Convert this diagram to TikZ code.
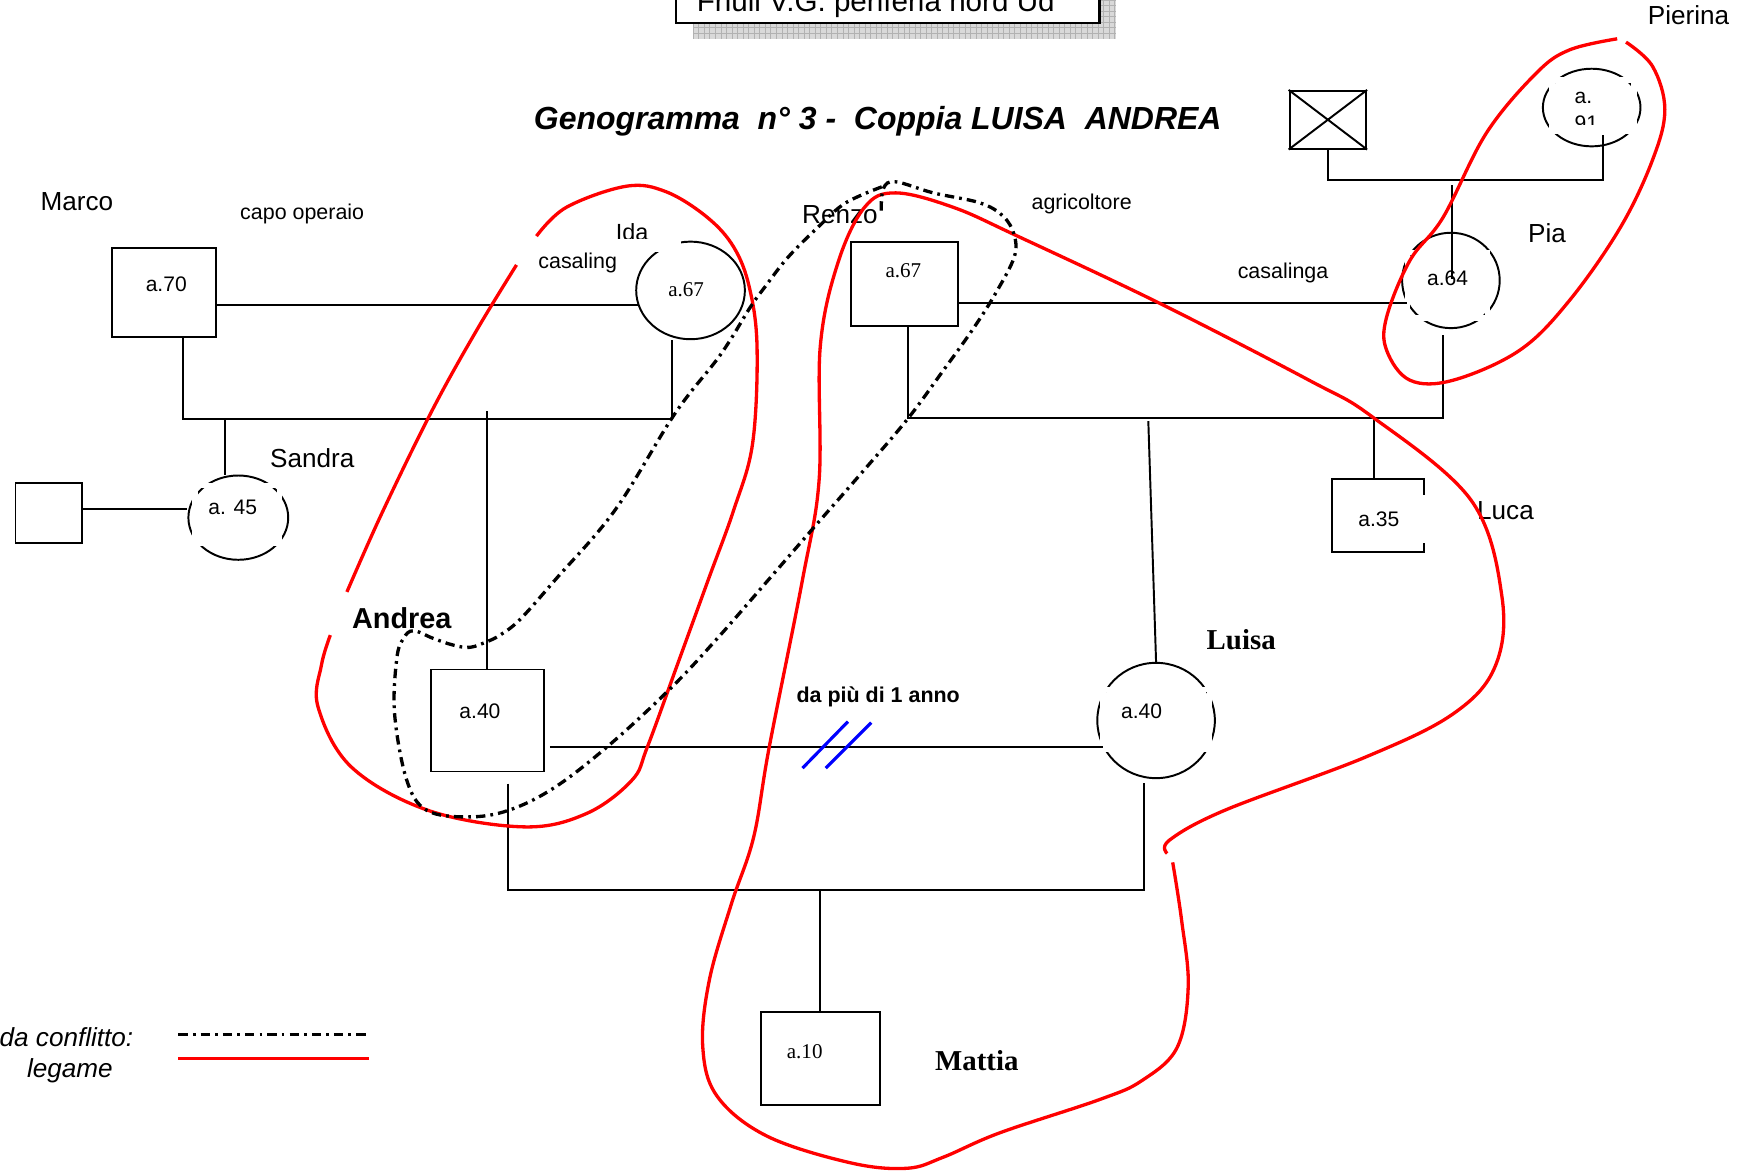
\documentclass[tikz,border=0pt]{standalone}
\usepackage{fontspec}
\setmainfont{Liberation Sans}
\newfontfamily\tms{Liberation Serif}
\usetikzlibrary{shapes.geometric}

\begin{document}
\begin{tikzpicture}[x=0.01cm, y=-0.01cm,
  male/.style={draw, rectangle, line width=0.5pt, inner sep=0},
  female/.style={draw, ellipse, line width=0.5pt, inner sep=0},
  eta/.style={inner sep=0, font=\fontsize{5.4}{6.5}\selectfont},
  etatm/.style={inner sep=0, font=\tms\fontsize{5.4}{6.5}\selectfont},
  pname/.style={anchor=base west, inner sep=0, font=\fontsize{6.7}{8}\selectfont},
  job/.style={anchor=base west, inner sep=0, font=\fontsize{5.5}{6.5}\selectfont},
  rel/.style={line width=0.5pt},
  textbox/.style={draw=white, line width=1.4pt},
  legame/.style={red, line width=0.85pt},
  conflitto/.style={line width=0.85pt, dash pattern=on 2.4pt off 1.3pt on 0.7pt off 1.3pt},
  separa/.style={blue, line width=0.8pt},
]
  \useasboundingbox (0,0) rectangle (1568,1056);

  % intestazione (tagliata in alto)
  \fill[gray!30] (625,35) rectangle (1007,-20);
  \draw[gray!60, line width=0.2pt, step=0.05cm] (625,35) grid (1007,-20);
  \filldraw[fill=white, line width=0.6pt] (610,-34) rectangle (992,21);
  \node[anchor=base west, inner sep=0, font=\fontsize{7.6}{9}\selectfont] (luogo) at (628,10)
    {Friuli V.G. periferia nord Ud};

  \node[anchor=base west, inner sep=0, font=\bfseries\itshape\fontsize{8.2}{10}\selectfont]
    (titolo) at (481,117) {Genogramma~~n° 3 -~~Coppia LUISA~~ANDREA};

  % persone
  \node[male, minimum width=0.94cm, minimum height=0.80cm] (marco) at (148,264) {};
  \node[female, minimum width=0.98cm, minimum height=0.88cm] (ida) at (623,262) {};
  \node[female, minimum width=0.90cm, minimum height=0.76cm] (sandra) at (215,467) {};
  \node[male, minimum width=0.60cm, minimum height=0.54cm] (sandraM) at (44,463) {};
  \node[male, minimum width=1.02cm, minimum height=0.92cm] (andrea) at (440,650) {};
  \node[male, minimum width=0.96cm, minimum height=0.76cm] (renzo) at (816,256) {};
  \node[female, minimum width=0.88cm, minimum height=0.86cm] (pia) at (1309,253) {};
  \node[male, minimum width=0.69cm, minimum height=0.52cm] (bisnonno) at (1198,108) {};
  \draw[rel] (bisnonno.north west) -- (bisnonno.south east)
    (bisnonno.north east) -- (bisnonno.south west);
  \node[female, minimum width=0.88cm, minimum height=0.70cm] (pierina) at (1436,97) {};
  \node[male, minimum width=0.83cm, minimum height=0.66cm] (luca) at (1243,465) {};
  \node[female, minimum width=1.06cm, minimum height=1.04cm] (luisa) at (1043,650) {};
  \node[male, minimum width=1.07cm, minimum height=0.84cm] (mattia) at (740,955) {};

  % eta'
  \node[eta] (marcoEta) at ([shift={(2,-8)}]marco.center) {a.70};
  \node[etatm] (idaEta) at ([shift={(-4,-1)}]ida.center) {a.67};
  \node[eta] (sandraEta) at ([shift={(-5,-9)}]sandra.center) {a. 45};
  \node[eta] (andreaEta) at ([shift={(-7,-8)}]andrea.center) {a.40};
  \node[etatm] (renzoEta) at ([shift={(-1,-12)}]renzo.center) {a.67};
  \node[eta] (piaEta) at ([shift={(-3,-2)}]pia.center) {a.64};
  \node[eta] (lucaEta) at ([shift={(1,3)}]luca.center) {a.35};
  \node[eta] (luisaEta) at ([shift={(-13,-8)}]luisa.center) {a.40};
  \node[etatm] (mattiaEta) at ([shift={(-14,-6)}]mattia.center) {a.10};
  \begin{scope}
    \clip (1395,70) rectangle (1478,112);
    \node[eta, anchor=base west] (pierinaA) at (1420,93) {a.};
    \node[eta, anchor=base west] (pierinaB) at (1420,118) {91};
  \end{scope}

  % bordi bianchi delle caselle di testo
  \draw[textbox] (176,438) rectangle (252,490);
  \draw[textbox] (995,622) rectangle (1091,676);
  \draw[textbox] (1270,228) rectangle (1342,287);
  \draw[textbox] (1400,72) rectangle (1474,118);
  \draw[textbox] (luca.east |- 0,447) -- (luca.east |- 0,490);

  % punti di giunzione
  \coordinate (miL) at (165,378);
  \coordinate (miR) at (606,378);
  \coordinate (saT) at (203,378);
  \coordinate (anT) at (439,371);
  \coordinate (rpL) at (819,377);
  \coordinate (rpR) at (1302,377);
  \coordinate (luT) at (1036,380);
  \coordinate (lcT) at (1240,377);
  \coordinate (alL) at (496,674);
  \coordinate (alR) at (995,674);
  \coordinate (amL) at (458,803);
  \coordinate (amR) at (1032,803);
  \coordinate (mtT) at (740,803);
  \coordinate (piR) at (1446,162);
  \coordinate (piaT) at (1310,167);
  \coordinate (piaE) at (1310,252);

  % legami
  \draw[rel] (marco.east |- 0,275) -- (576,275);
  \draw[rel] (marco.south -| miL) -- (miL) -- (miR) -- (ida.south -| miR);
  \draw[rel] (saT) -- (saT |- sandra.north);
  \draw[rel] (sandraM.east |- 0,459) -- (sandra.west |- 0,459);
  \draw[rel] (anT) -- (anT |- andrea.north);
  \draw[rel] (renzo.east |- 0,273) -- (1269,273);
  \draw[rel] (renzo.south -| rpL) -- (rpL) -- (rpR) -- (rpR |- 0,302);
  \draw[rel] (lcT) -- (lcT |- luca.north);
  \draw[rel] (luT) -- (luisa.north);
  \draw[rel] (alL) -- (alR);
  \draw[rel] (amL |- 0,707) -- (amL) -- (amR) -- (amR |- 0,706);
  \draw[rel] (mtT) -- (mattia.north);
  \draw[rel] (bisnonno.south) -- (bisnonno.south |- piR) -- (piR) -- (piR |- 0,122);
  \draw[rel] (piaT) -- (piaE);

  \draw[separa] (724,693) -- (765,651);
  \draw[separa] (745,693) -- (786,652);

  % nomi e note
  \node[pname] (marcoL) at (36,190) {Marco};
  \node[job] (marcoJ) at (216,198) {capo operaio};
  \node[anchor=base west, inner sep=0, font=\fontsize{6}{7}\selectfont] (idaL) at (555,217) {Ida};
  \fill[white] (540,216) rectangle (614,227);
  \node[job] (idaJ) at (485,242) {casaling};
  \node[pname] (sandraL) at (243,422) {Sandra};
  \node[anchor=base west, inner sep=0, font=\bfseries\fontsize{7.4}{9}\selectfont] (andreaL) at (317,567) {Andrea};
  \node[pname] (renzoL) at (723,202) {Renzo};
  \node[job] (renzoJ) at (930,189) {agricoltore};
  \node[job] (piaJ) at (1116,251) {casalinga};
  \node[pname] (piaL) at (1378,219) {Pia};
  \node[pname] (pierinaL) at (1486,22) {Pierina};
  \node[pname] (lucaL) at (1332,469) {Luca};
  \node[anchor=base west, inner sep=0, font=\tms\bfseries\fontsize{7.4}{9}\selectfont] (luisaL) at (1088,586) {Luisa};
  \node[anchor=base west, inner sep=0, font=\tms\bfseries\fontsize{7.4}{9}\selectfont] (mattiaL) at (843,966) {Mattia};
  \node[anchor=base west, inner sep=0, font=\bfseries\fontsize{5.5}{7}\selectfont] (tempo) at (718,634) {da più di 1 anno};

  % legenda
  \node[anchor=base, inner sep=0, font=\itshape\fontsize{6.7}{8}\selectfont] (legC) at (60,944) {da conflitto:};
  \node[anchor=base, inner sep=0, font=\itshape\fontsize{6.7}{8}\selectfont] (legL) at (63,972) {legame};
  \draw[conflitto] (161,933) -- (333,933);
  \draw[legame] (161,955) -- (333,955);

  % linee di legame (rosse)
  \draw[legame] plot[smooth, tension=0.6] coordinates {(484,213) (511,187) (565,168) (601,173)
    (638,196) (662,223) (676,259) (683,313) (679,400) (662,460) (639,523) (611,600) (584,674)
    (570,704) (529,734) (473,746) (386,731) (317,692) (287,638) (290,600) (298,573)};
  \draw[legame] plot[smooth, tension=0.6] coordinates {(313,534) (345,462) (390,370) (430,298) (466,239)};
  \draw[legame] plot[smooth, tension=0.6] coordinates {(1058,778) (1066,830) (1072,890) (1062,945)
    (1030,975) (992,992) (902,1022) (851,1044) (818,1054) (767,1049) (692,1025) (647,989) (634,944)
    (640,884) (660,815) (680,755) (694,674) (724,523) (739,433) (740,313) (756,237) (780,187)
    (808,174) (860,187) (918,213) (1047,274) (1181,343) (1238,376) (1327,451) (1355,538)
    (1349,601) (1311,644) (1232,683) (1105,731) (1055,758) (1053,770)};
  \draw[legame] plot[smooth, tension=0.6] coordinates {(1467,38) (1491,60) (1502,99) (1491,144)
    (1462,205) (1416,271) (1371,316) (1311,343) (1272,343) (1251,316) (1251,286) (1272,235)
    (1302,196) (1341,120) (1386,66) (1416,45) (1459,35)};

  % linea di conflitto
  \draw[conflitto] plot[smooth, tension=0.6] coordinates {(795,190) (797,170) (808,164) (842,174)
    (884,183) (905,195) (915,212) (915,232) (898,265) (877,298) (849,337) (818,379) (777,427)
    (735,475) (689,528) (648,575) (606,620) (551,671) (501,710) (459,731) (422,737) (385,731)
    (367,704) (356,644) (358,594) (364,576) (373,569) (391,576) (409,582) (424,584) (439,579)
    (451,573) (469,559) (501,523) (555,460) (609,373) (650,320) (677,277) (690,259) (711,232)
    (739,204) (763,183) (797,168)};
\end{tikzpicture}
\end{document}
